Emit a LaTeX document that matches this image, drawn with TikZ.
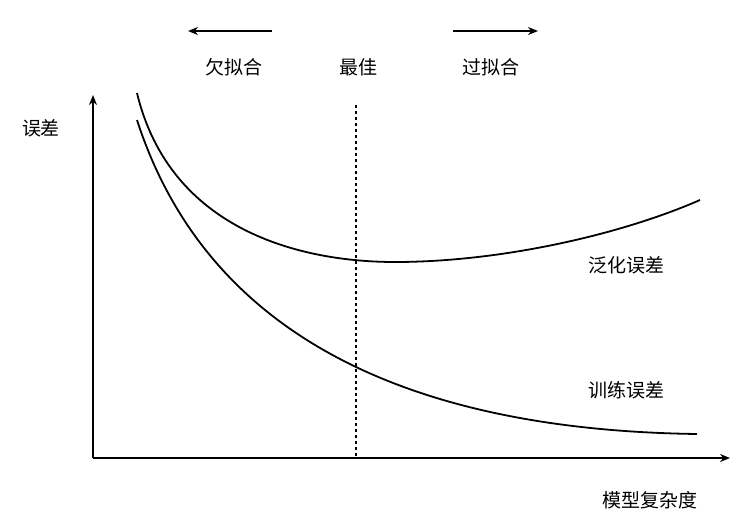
\documentclass[tikz,border=0pt]{standalone}
\usetikzlibrary{arrows.meta}
\usepackage{fontspec}
\setmainfont{Noto Sans CJK SC}
\begin{document}
\begin{tikzpicture}[x=1pt,y=-1pt,
  lbl/.style={font=\fontsize{19}{22}\selectfont, inner sep=0pt},
  ax/.style={line width=1.8pt,-{Stealth[length=10pt,width=8pt]}},
  crv/.style={line width=1.8pt}]
\useasboundingbox (0,0) rectangle (748,531);
\coordinate (o) at (93,458);
\coordinate (ytop) at (93,95);
\coordinate (xend) at (730,458);
\draw[ax] (o) -- (ytop);
\draw[ax] (o) -- (xend);
\coordinate (dtop) at (356,105);
\coordinate (dbot) at (356,458);
\draw[line width=1.8pt, dash pattern=on 3pt off 3pt] (dtop) -- (dbot);
\coordinate (la) at (272,31); \coordinate (lb) at (188,31);
\coordinate (ra) at (453,31); \coordinate (rb) at (538,31);
\draw[ax] (la) -- (lb);
\draw[ax] (ra) -- (rb);
\node[lbl] (under) at (234,67) {欠拟合};
\node[lbl] (best) at (358,67) {最佳};
\node[lbl] (over) at (491,67) {过拟合};
\node[lbl] (err) at (41,128) {误差};
\node[lbl] (gen) at (626,265) {泛化误差};
\node[lbl] (tr) at (626,390) {训练误差};
\node[lbl] (cx) at (650,500) {模型复杂度};
\draw[crv] (137,93) .. controls (170,230) and (300,262) .. (395,262) .. controls (500,262) and (620,235) .. (700,200);
\draw[crv] (137,120) .. controls (205,330) and (400,430) .. (697,434);
\end{tikzpicture}
\end{document}
